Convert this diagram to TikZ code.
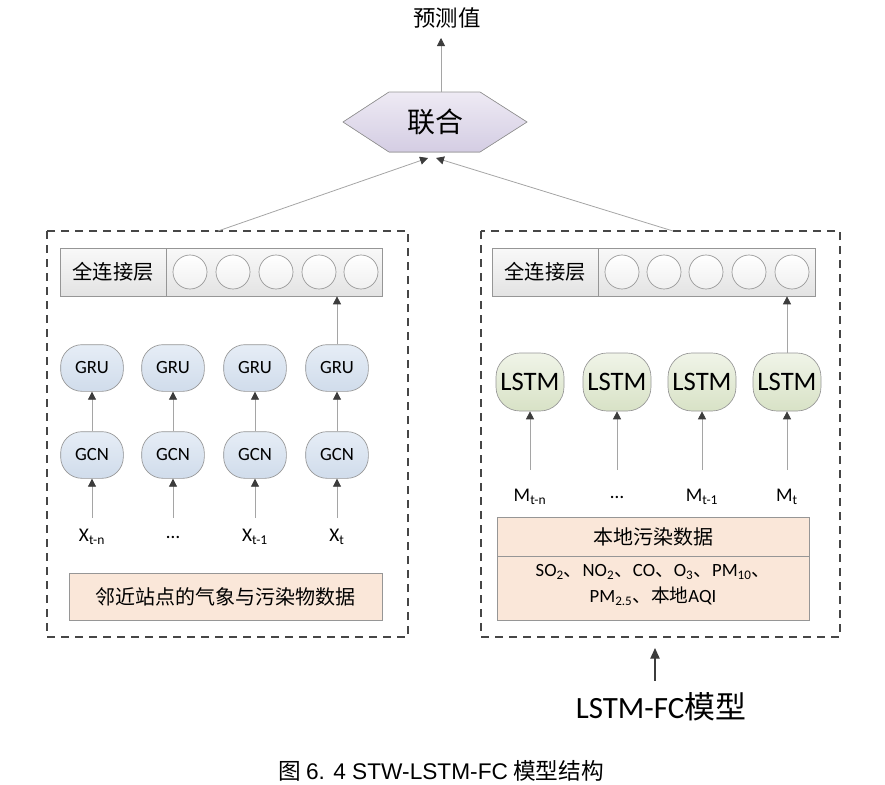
\documentclass[tikz,border=0pt]{standalone}
\usepackage{fontspec}
\setmainfont{Carlito}
\newfontfamily\cjk{Noto Sans CJK SC}
\newfontfamily\arial{Liberation Sans}
\usepackage{xcolor}
\usetikzlibrary{arrows.meta}
\definecolor{linegray}{RGB}{165,165,165}
\definecolor{tipgray}{RGB}{60,60,60}
\definecolor{edgegray}{RGB}{150,150,150}
\definecolor{dashgray}{RGB}{70,70,70}
\definecolor{grutop}{RGB}{230,237,246}
\definecolor{grubot}{RGB}{208,220,235}
\definecolor{lstmtop}{RGB}{240,244,232}
\definecolor{lstmbot}{RGB}{216,226,198}
\definecolor{hextop}{RGB}{238,234,244}
\definecolor{hexbot}{RGB}{212,205,227}
\definecolor{beige}{RGB}{250,231,217}
\tikzset{
  link/.style={draw=linegray, line width=0.6pt, -{Triangle[length=6pt,width=6pt,color=tipgray,fill=tipgray]}},
  cell/.style={draw=edgegray, line width=0.5pt, rounded corners=16pt, minimum width=47pt, minimum height=35pt,
    top color=grutop, bottom color=grubot, font=\fontsize{14}{16}\selectfont},
  lstmcell/.style={cell, rounded corners=18pt, minimum width=51pt, minimum height=43.5pt,
    top color=lstmtop, bottom color=lstmbot, font=\fontsize{20}{22}\selectfont},
  fcbar/.style={draw=edgegray, line width=0.5pt, minimum height=36pt, top color=gray!5, bottom color=gray!22},
  neuron/.style={circle, draw=edgegray, line width=0.5pt, minimum size=25.5pt, inner sep=0pt, top color=white, bottom color=gray!12},
  datain/.style={fill=beige, draw=edgegray, line width=0.5pt},
  dashbox/.style={draw=dashgray, line width=1.1pt, dash pattern=on 6pt off 4.5pt},
  invar/.style={inner sep=0pt, minimum height=28pt, font=\fontsize{14.5}{16}\selectfont}
}
\begin{document}
\begin{tikzpicture}[x=0.75pt, y=-0.75pt]
\useasboundingbox (0,0) rectangle (885,785);
\fill[top color=hextop, bottom color=hexbot] (343,122) -- (389,92) -- (480,92) -- (527,122) -- (480,152) -- (389,152) -- cycle;
\draw[edgegray, line width=0.5pt] (343,122) -- (389,92) -- (480,92) -- (527,122) -- (480,152) -- (389,152) -- cycle;
\node (join) [minimum width=138pt, minimum height=45pt, inner sep=0pt, font=\cjk\fontsize{21}{23}\selectfont] at (435,122) {联合};
\node (pred) [font=\cjk\fontsize{16.8}{18}\selectfont] at (447,18) {预测值};
\draw[link] (441,92) -- (441,38);
\draw[dashbox] (47,231) rectangle (408,637);
\draw[dashbox] (481,231) rectangle (840,637);
\coordinate (ltop) at (218,231);
\coordinate (rtop) at (673,231);
\draw[link] (ltop) -- (428,158);
\draw[link] (rtop) -- (436,158);
\node (fcl) [fcbar, minimum width=241.5pt] at (221,272) {};
\draw[edgegray, line width=0.5pt] (166,248) -- (166,296);
\node [font=\cjk\fontsize{15.2}{17}\selectfont] at (113,272) {全连接层};
\foreach \x [count=\i] in {190,233,276,319,361}
  \node (nl\i) [neuron] at (\x,272) {};
\node (fcr) [fcbar, minimum width=242.25pt] at (653.5,272) {};
\draw[edgegray, line width=0.5pt] (598,248) -- (598,296);
\node [font=\cjk\fontsize{15.2}{17}\selectfont] at (545,272) {全连接层};
\foreach \x [count=\i] in {622,664,706,749,792}
  \node (nr\i) [neuron] at (\x,272) {};
\foreach \x/\lab [count=\i] in {92/X\textsubscript{t-n}, 173/\ldots, 255/X\textsubscript{t-1}, 337/X\textsubscript{t}} {
  \node (gru\i) [cell] at (\x,368) {GRU};
  \node (gcn\i) [cell] at (\x,455) {GCN};
  \node (x\i) [invar] at (\x,537) {\lab};
  \draw[link] (gcn\i) -- (gru\i);
  \draw[link] (x\i) -- (gcn\i);
}
\draw[link] (gru4) -- (gru4 |- fcl.south);
\node (near) [datain, minimum width=234.75pt, minimum height=35.25pt, font=\cjk\fontsize{15}{17}\selectfont] at (225.5,596.5) {邻近站点的气象与污染物数据};
\foreach \x/\lab [count=\i] in {530/M\textsubscript{t-n}, 617/\ldots, 702/M\textsubscript{t-1}, 787/M\textsubscript{t}} {
  \node (lstm\i) [lstmcell] at (\x,382) {LSTM};
  \node (m\i) [invar, minimum height=40.5pt] at (\x,497) {\lab};
  \draw[link] (m\i) -- (lstm\i);
}
\draw[link] (lstm4) -- (lstm4 |- fcr.south);
\node (local) [datain, minimum width=234pt, minimum height=77.25pt] at (653,568.5) {};
\draw[edgegray, line width=0.5pt] (497,556) -- (809,556);
\node [font=\cjk\fontsize{15}{17}\selectfont] at (653,537) {本地污染数据};
\node [align=center, font=\fontsize{14}{19.5}\selectfont] at (653,585) {SO\textsubscript{2}{\cjk 、}NO\textsubscript{2}{\cjk 、}CO{\cjk 、}O\textsubscript{3}{\cjk 、}PM\textsubscript{10}{\cjk 、}\\PM\textsubscript{2.5}{\cjk 、本地}AQI};
\coordinate (fcin) at (655,648);
\node (fcm) [inner sep=0pt, minimum height=39pt, font=\fontsize{23.2}{25}\selectfont] at (661,707) {LSTM-FC{\cjk 模型}};
\draw[draw=tipgray, line width=1pt, -{Triangle[length=8pt,width=7pt]}] (fcm.north -| fcin) -- (fcin);
\node (cap) [font=\fontsize{17}{19}\selectfont] at (441,771) {{\cjk 图} {\arial 6. 4 STW-LSTM-FC} {\cjk 模型结构}};
\end{tikzpicture}
\end{document}
